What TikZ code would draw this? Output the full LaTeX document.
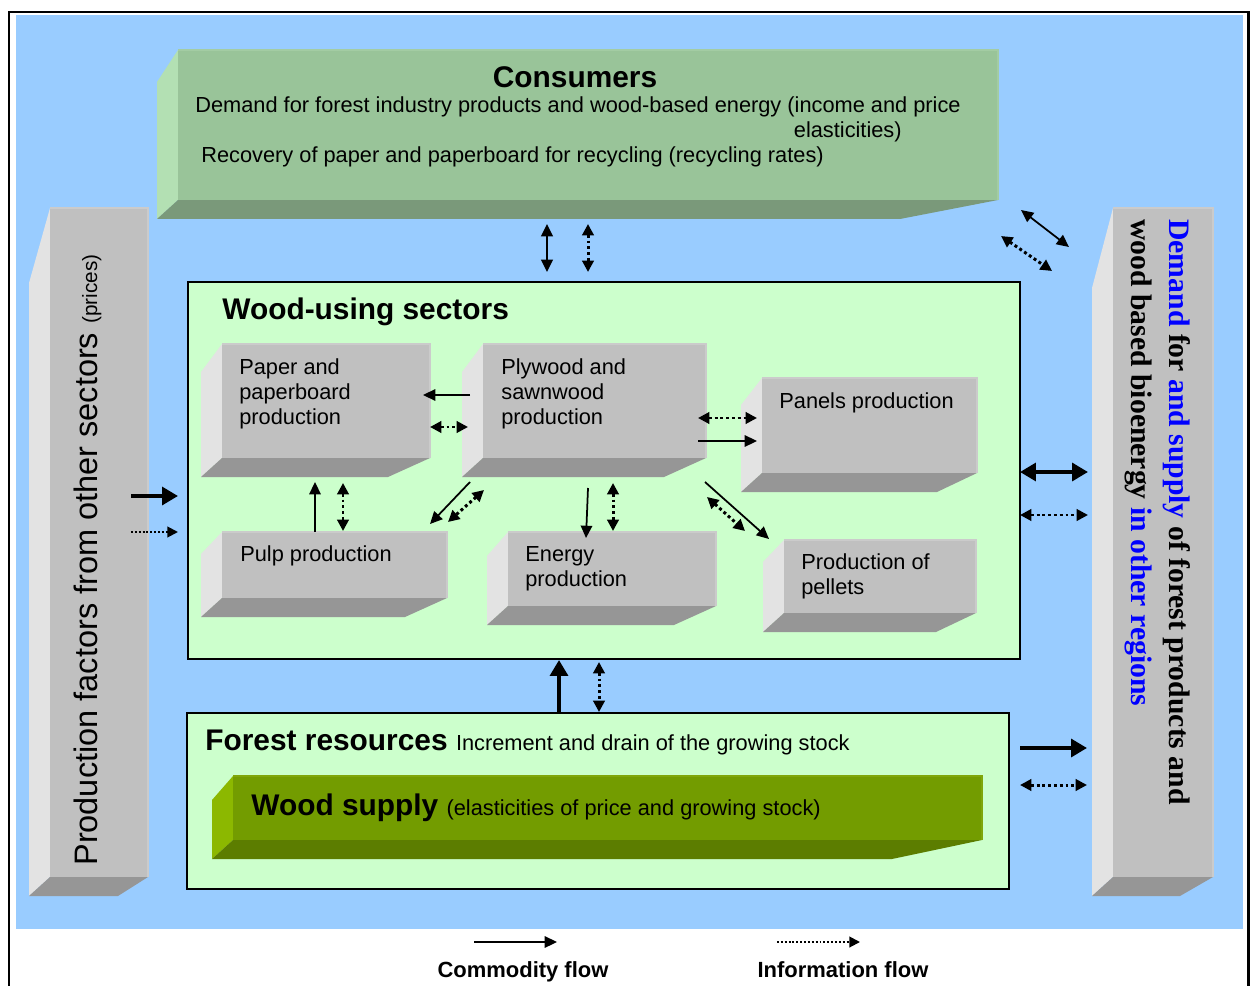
\documentclass[tikz,border=0pt]{standalone}
\usepackage{fontspec}
\setmainfont{Liberation Sans}
\newfontfamily\timesfont{Liberation Serif}
\usetikzlibrary{arrows.meta}
\definecolor{skyblue}{HTML}{99CCFF}
\definecolor{mint}{HTML}{CCFFCC}
\definecolor{grF}{HTML}{C0C0C0}
\definecolor{grL}{HTML}{E3E3E3}
\definecolor{grB}{HTML}{969696}
\definecolor{grH}{HTML}{CBCBCB}
\definecolor{cnF}{HTML}{99C499}
\definecolor{cnL}{HTML}{B3E0B3}
\definecolor{cnB}{HTML}{7A997A}
\definecolor{cnH}{HTML}{A3CCA3}
\definecolor{wsF}{HTML}{739C00}
\definecolor{wsL}{HTML}{8CB800}
\definecolor{wsB}{HTML}{5C7D00}
\definecolor{wsH}{HTML}{7FA60A}
% slab: x1,y1,x2,y2 of the front face, top slant, bottom slant, colour set
\newcommand{\slab}[7]{%
  \fill[#7L] (#1,#2) -- (#1-21,#2+#5) -- (#1-21,#4+19) -- (#1,#4) -- cycle;
  \fill[#7B] (#1-21,#4+19) -- (#3-#6,#4+19) -- (#3,#4) -- (#1,#4) -- cycle;
  \fill[#7F] (#1,#2) rectangle (#3,#4);
  \draw[#7H, line width=1pt] (#1,#2) -- (#3,#2) -- (#3,#4);
}
\begin{document}
\begin{tikzpicture}[x=0.02cm,y=-0.02cm]
    \tikzstyle{lbl}=[inner sep=0pt, font=\fontsize{12.4}{14.2}\selectfont]
    \tikzstyle{heading}=[inner sep=0pt, font=\bfseries\fontsize{17}{20}\selectfont]
    \tikzstyle{com}=[-{Triangle[length=7pt,width=6.5pt]}, line width=1pt]
    \tikzstyle{comb}=[{Triangle[length=7pt,width=6.5pt]}-{Triangle[length=7pt,width=6.5pt]}, line width=1pt]
    \tikzstyle{info}=[{Triangle[length=6.5pt,width=6.5pt]}-{Triangle[length=6.5pt,width=6.5pt]}, line width=1.7pt, dash pattern=on 1.7pt off 1.6pt]
    \tikzstyle{infoone}=[-{Triangle[length=6pt,width=6pt]}, line width=1.1pt, dash pattern=on 1.1pt off 1.1pt]
    \tikzstyle{bigcom}=[-{Triangle[length=9pt,width=10pt]}, line width=2.8pt]
    \tikzstyle{bigcomb}=[{Triangle[length=9pt,width=10pt]}-{Triangle[length=9pt,width=10pt]}, line width=2.8pt]
    \useasboundingbox (0,0) rectangle (1250,986);
    \fill[skyblue] (16,15) rectangle (1243,929);
    \draw[line width=1.7pt] (9,986) -- (9,12) -- (1248,12) -- (1248,986);

    % outer blocks
    \slab{178}{50}{998}{200}{32}{98}{cn}
    \slab{50}{208}{148}{877}{75}{30}{gr}
    \slab{1113}{208}{1213}{877}{80}{33}{gr}
    \draw[fill=mint, line width=0.8pt] (188,282) rectangle (1020,659);
    \draw[fill=mint, line width=0.8pt] (187,713) rectangle (1009,889);

    % sector blocks
    \slab{222}{344}{430}{458}{28}{42}{gr}
    \slab{483}{344}{706}{458}{28}{42}{gr}
    \slab{762}{378}{977}{473}{27}{40}{gr}
    \slab{222}{532}{447}{598}{22}{42}{gr}
    \slab{508}{532}{716}{606}{24}{42}{gr}
    \slab{784}{540}{976}{613}{22}{40}{gr}
    \slab{233}{776}{982}{840}{24}{90}{ws}

    % texts
    \node[heading, anchor=base] (cons) at (575,88) {Consumers};
    \node[lbl, anchor=base west] (cons1) at (195,113) {Demand for forest industry products and wood-based energy (income and price};
    \node[lbl, anchor=base east] (cons2) at (902,138) {elasticities)};
    \node[lbl, anchor=base west] (cons3) at (201,163) {Recovery of paper and paperboard for recycling (recycling rates)};
    \node[heading, anchor=base west] (sect) at (222,319) {Wood-using sectors};
    \node[lbl, anchor=north west, align=left] (paper) at (239,358) {Paper and\\paperboard\\production};
    \node[lbl, anchor=north west, align=left] (ply) at (501,358) {Plywood and\\sawnwood\\production};
    \node[lbl, anchor=north west, align=left] (panel) at (779,392) {Panels production};
    \node[lbl, anchor=north west, align=left] (pulp) at (240,545) {Pulp production};
    \node[lbl, anchor=north west, align=left] (energy) at (525,546) {Energy\\production};
    \node[lbl, anchor=north west, align=left] (pellet) at (801,553) {Production of\\pellets};
    \node[heading, anchor=base west] (forest) at (205,750) {Forest resources {\mdseries\fontsize{12.4}{14}\selectfont Increment and drain of the growing stock}};
    \node[heading, anchor=base west] (supply) at (251,815) {Wood supply {\mdseries\fontsize{12.4}{14}\selectfont (elasticities of price and growing stock)}};
    \node[inner sep=0pt, rotate=90, anchor=base west, font=\fontsize{18.5}{21}\selectfont] (factors) at (97,866) {Production factors from other sectors {\fontsize{11.8}{14}\selectfont (prices)}};
    \node[inner sep=0pt, rotate=-90, anchor=north west, align=left, font=\timesfont\bfseries\fontsize{16.9}{21.5}\selectfont] (regions) at (1191,219) {\textcolor{blue}{Demand} for \textcolor{blue}{and supply} of forest products and\\wood based bioenergy \textcolor{blue}{in other regions}};
    \node[inner sep=0pt, anchor=base, font=\bfseries\fontsize{12.5}{15}\selectfont] (lcom) at (523,977) {Commodity flow};
    \node[inner sep=0pt, anchor=base, font=\bfseries\fontsize{12.5}{15}\selectfont] (linfo) at (843,977) {Information flow};

    % arrow ends
    \coordinate (a1) at (470,395); \coordinate (a2) at (423,395);
    \coordinate (b1) at (430,427); \coordinate (b2) at (468,427);
    \coordinate (c1) at (698,418); \coordinate (c2) at (757,418);
    \coordinate (d1) at (698,441); \coordinate (d2) at (757,441);
    \coordinate (e1) at (315,532); \coordinate (e2) at (315,482);
    \coordinate (f1) at (343,483); \coordinate (f2) at (343,531);
    \coordinate (g1) at (470,482); \coordinate (g2) at (430,524);
    \coordinate (h1) at (484,490); \coordinate (h2) at (448,522);
    \coordinate (i1) at (588,488); \coordinate (i2) at (586,538);
    \coordinate (j1) at (613,483); \coordinate (j2) at (613,531);
    \coordinate (k1) at (705,482); \coordinate (k2) at (769,539);
    \coordinate (l1) at (707,497); \coordinate (l2) at (745,531);
    \coordinate (m1) at (547,224); \coordinate (m2) at (547,272);
    \coordinate (n1) at (588,224); \coordinate (n2) at (588,272);
    \coordinate (o1) at (1021,210); \coordinate (o2) at (1069,247);
    \coordinate (p1) at (1001,236); \coordinate (p2) at (1052,271);
    \coordinate (q1) at (131,496); \coordinate (q2) at (178,496);
    \coordinate (r1) at (131,532); \coordinate (r2) at (178,532);
    \coordinate (s1) at (1020,472); \coordinate (s2) at (1088,472);
    \coordinate (t1) at (1020,515); \coordinate (t2) at (1088,515);
    \coordinate (u1) at (559,713); \coordinate (u2) at (559,660);
    \coordinate (v1) at (599,662); \coordinate (v2) at (599,712);
    \coordinate (w1) at (1020,748); \coordinate (w2) at (1087,748);
    \coordinate (z1) at (1020,785); \coordinate (z2) at (1087,785);
    \coordinate (lc1) at (474,942); \coordinate (lc2) at (557,942);
    \coordinate (li1) at (777,942); \coordinate (li2) at (860,942);

    \draw[com] (a1) -- (a2);
    \draw[info] (b1) -- (b2);
    \draw[info] (c1) -- (c2);
    \draw[com] (d1) -- (d2);
    \draw[com] (e1) -- (e2);
    \draw[info] (f1) -- (f2);
    \draw[com] (g1) -- (g2);
    \draw[info] (h1) -- (h2);
    \draw[com] (i1) -- (i2);
    \draw[info] (j1) -- (j2);
    \draw[com] (k1) -- (k2);
    \draw[info] (l1) -- (l2);
    \draw[comb, line width=1.3pt] (m1) -- (m2);
    \draw[info] (n1) -- (n2);
    \draw[comb] (o1) -- (o2);
    \draw[info] (p1) -- (p2);
    \draw[bigcom] (q1) -- (q2);
    \draw[infoone] (r1) -- (r2);
    \draw[bigcomb] (s1) -- (s2);
    \draw[info] (t1) -- (t2);
    \draw[bigcom] (u1) -- (u2);
    \draw[info] (v1) -- (v2);
    \draw[bigcom] (w1) -- (w2);
    \draw[info] (z1) -- (z2);
    \draw[com] (lc1) -- (lc2);
    \draw[infoone] (li1) -- (li2);
\end{tikzpicture}
\end{document}
